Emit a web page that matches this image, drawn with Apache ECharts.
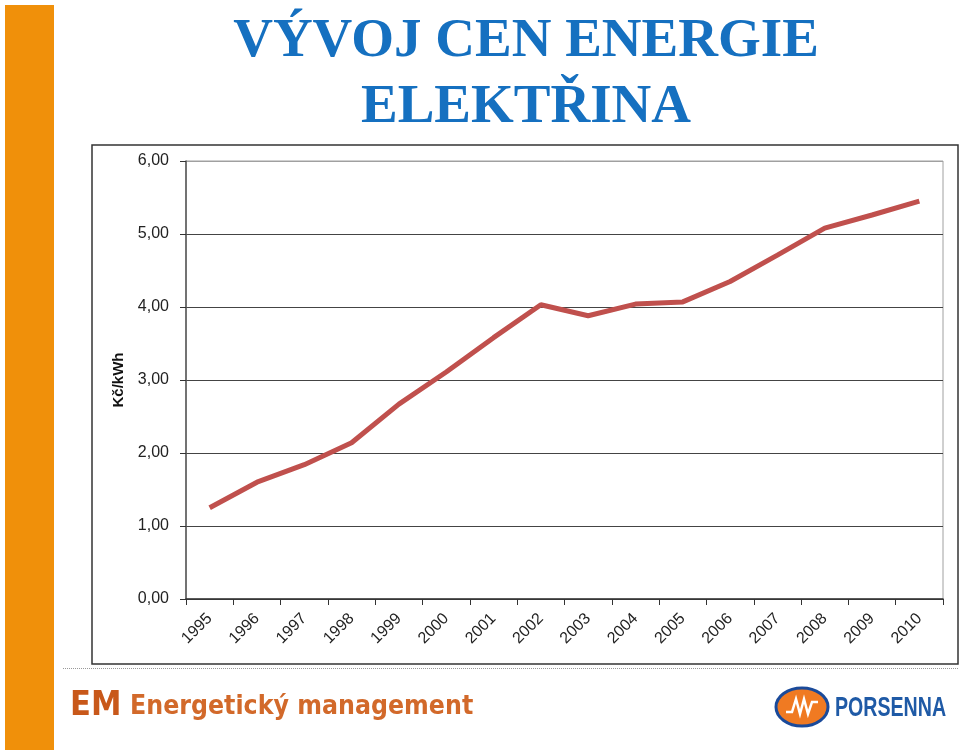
<!DOCTYPE html>
<html>
<head>
<meta charset="utf-8">
<script src="https://cdn.jsdelivr.net/npm/echarts@6/dist/echarts.min.js"></script>
<style>
  html, body { margin: 0; padding: 0; background: #ffffff; }
  #chart { width: 959px; height: 751px; }
</style>
</head>
<body>
<div id="chart"></div>
<script>
// roky a ceny elektřiny (Kč/kWh)
const years = ['1995', '1996', '1997', '1998', '1999', '2000', '2001', '2002',
  '2003', '2004', '2005', '2006', '2007', '2008', '2009', '2010']
const prices = [1.25, 1.60, 1.84, 2.14, 2.67, 3.11, 3.58, 4.03,
  3.88, 4.04, 4.07, 4.35, 4.71, 5.08, 5.26, 5.45]
const titleLines = ['VÝVOJ CEN ENERGIE', 'ELEKTŘINA']

const chart = echarts.init(document.getElementById('chart'))

const fmt = v => v.toFixed(2).replace('.', ',')

chart.setOption({
  backgroundColor: '#ffffff',
  animation: false,
  grid: {
    left: 186,
    right: 16,
    top: 161,
    bottom: 152,
    show: true,
    borderColor: '#a0a0a0',
    borderWidth: 1
  },
  xAxis: {
    type: 'category',
    data: years,
    boundaryGap: true,
    axisLine: { lineStyle: { color: '#333333', width: 1.5 } },
    axisTick: { show: true, length: 6, lineStyle: { color: '#333333' } },
    axisLabel: {
      rotate: 45,
      margin: 17,
      color: '#222222',
      fontFamily: 'Liberation Sans',
      fontSize: 16
    }
  },
  yAxis: {
    type: 'value',
    min: 0,
    max: 6,
    interval: 1,
    name: 'Kč/kWh',
    nameLocation: 'middle',
    nameGap: 60,
    nameRotate: 90,
    nameTextStyle: {
      color: '#111111',
      fontFamily: 'Liberation Sans',
      fontSize: 15,
      fontWeight: 'bold'
    },
    axisLine: { show: true, lineStyle: { color: '#555555', width: 1.5 } },
    axisTick: { show: true, length: 6, lineStyle: { color: '#333333' } },
    axisLabel: {
      formatter: fmt,
      margin: 17,
      color: '#222222',
      fontFamily: 'Liberation Sans',
      fontSize: 16
    },
    splitLine: {
      lineStyle: {
        color: ['#444444', '#444444', '#444444', '#444444', '#444444', '#444444', '#a0a0a0'],
        width: 1.2
      }
    }
  },
  series: [{
    type: 'line',
    data: prices,
    symbol: 'none',
    lineStyle: { color: '#c0504d', width: 5 }
  }],
  graphic: [
    // oranžový pruh vlevo
    { type: 'rect', shape: { x: 5, y: 5, width: 49, height: 745 }, style: { fill: '#f0900a' } },
    // rámeček grafu
    { type: 'rect', shape: { x: 92, y: 145, width: 866, height: 519 }, style: { fill: 'none', stroke: '#333333', lineWidth: 1.5 }, z: 10 },
    // nadpis
    { type: 'text', x: 526, y: 69, style: { text: titleLines[0], font: 'bold 55px "Liberation Serif"', fill: '#1570c0', textAlign: 'center', textVerticalAlign: 'bottom' } },
    { type: 'text', x: 526, y: 135, style: { text: titleLines[1], font: 'bold 55px "Liberation Serif"', fill: '#1570c0', textAlign: 'center', textVerticalAlign: 'bottom' } },
    // tečkovaná čára
    { type: 'line', shape: { x1: 63, y1: 668.5, x2: 959, y2: 668.5 }, style: { stroke: '#999999', lineWidth: 1, lineDash: [1, 1] } },
    // logo EM
    { type: 'text', x: 70, y: 706, scaleX: 0.9, style: { text: 'EM', font: 'bold 34px "DejaVu Sans"', fill: '#c8581a', textVerticalAlign: 'middle' } },
    { type: 'text', x: 130, y: 707, scaleX: 0.88, style: { text: 'Energetický management', font: 'bold 27px "DejaVu Sans"', fill: '#d2692a', textVerticalAlign: 'middle' } },
    // logo PORSENNA
    { type: 'ellipse', shape: { cx: 802, cy: 707, rx: 26, ry: 19 }, style: { fill: '#f07a22', stroke: '#1a4a9a', lineWidth: 3 } },
    { type: 'polyline', shape: { points: [[786, 712], [792, 712], [796, 699], [800, 714], [804, 699], [808, 714], [812, 702], [818, 702]] }, style: { stroke: '#ffffff', lineWidth: 2.5, fill: 'none' } },
    { type: 'text', x: 835, y: 708, scaleX: 0.7, style: { text: 'PORSENNA', font: 'bold 28px "Liberation Sans"', fill: '#1f5aa6', textVerticalAlign: 'middle' } }
  ]
})
</script>
</body>
</html>
